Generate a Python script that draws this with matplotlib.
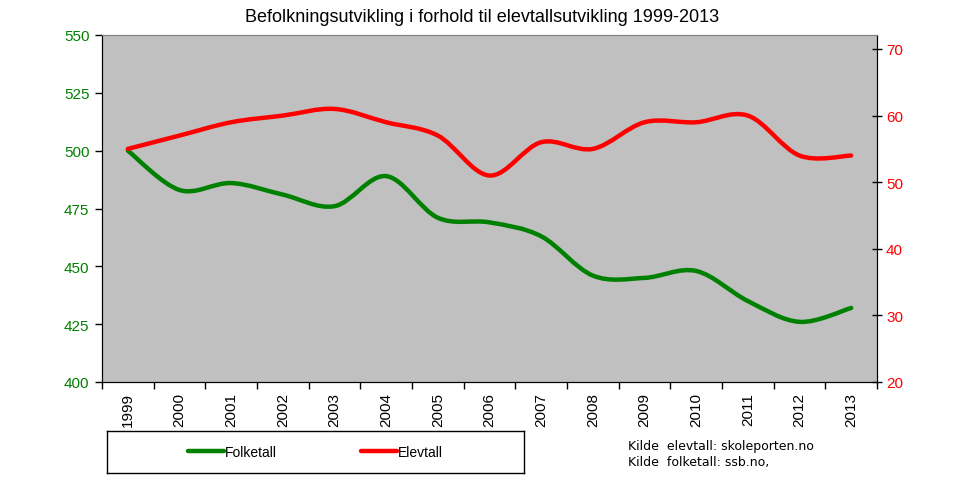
import matplotlib.pyplot as plt
from matplotlib.path import Path
from matplotlib.patches import PathPatch
from matplotlib.lines import Line2D

# data
years = ['1999', '2000', '2001', '2002', '2003', '2004', '2005', '2006',
         '2007', '2008', '2009', '2010', '2011', '2012', '2013']
folketall = [500, 483, 486, 481, 476, 489, 471, 469, 463, 446, 445, 448, 435, 426, 432]
elevtall = [55, 57, 59, 60, 61, 59, 57, 51, 56, 55, 59, 59, 60, 54, 54]

green = '#008000'
red = '#FF0000'


def smooth_line(ax, ys, color):
    # excel style smoothed line: cubic bezier segments through every point
    xs = list(range(len(ys)))
    n = len(xs)
    verts = [(xs[0], ys[0])]
    codes = [Path.MOVETO]
    for i in range(n - 1):
        a = max(i - 1, 0)
        d = min(i + 2, n - 1)
        c1 = (xs[i] + (xs[i + 1] - xs[a]) / 6, ys[i] + (ys[i + 1] - ys[a]) / 6)
        c2 = (xs[i + 1] - (xs[d] - xs[i]) / 6, ys[i + 1] - (ys[d] - ys[i]) / 6)
        verts += [c1, c2, (xs[i + 1], ys[i + 1])]
        codes += [Path.CURVE4] * 3
    patch = PathPatch(Path(verts, codes), fill=False, edgecolor=color,
                      lw=3.2, capstyle='round', joinstyle='round', zorder=3)
    ax.add_patch(patch)


fig = plt.figure(figsize=(9.65, 4.81), dpi=100)
plt.rcParams['font.family'] = ['Liberation Sans', 'DejaVu Sans']

ax = fig.add_axes([102 / 965, 98 / 481, 775 / 965, 347 / 481])
ax.set_facecolor('#C0C0C0')
ax2 = ax.twinx()

smooth_line(ax, folketall, green)
smooth_line(ax2, elevtall, red)

ax.set_xlim(-0.5, len(years) - 0.5)
ax.set_ylim(400, 550)
ax.set_yticks(range(400, 551, 25))
ax.tick_params(axis='y', labelsize=11, length=5, width=1, pad=4,
               color='black', labelcolor=green)

ax.set_xticks(range(len(years)))
ax.set_xticklabels(years, rotation=90, fontsize=11)
ax.set_xticks([i - 0.5 for i in range(len(years) + 1)], minor=True)
ax.tick_params(axis='x', which='major', length=0, pad=7)
ax.tick_params(axis='x', which='minor', length=5, width=1, color='black')

ax2.set_ylim(20, 72.1)
ax2.set_yticks(range(20, 71, 10))
ax2.tick_params(axis='y', labelsize=11, length=7, width=1, pad=3,
                direction='inout', color='black', labelcolor=red)

for a in (ax, ax2):
    a.spines['top'].set_color('#808080')
    a.spines['left'].set_color('black')
    a.spines['right'].set_color('black')
    a.spines['bottom'].set_color('black')

fig.text(0.5, 1 - 18 / 481, 'Befolkningsutvikling i forhold til elevtallsutvikling 1999-2013',
         ha='center', va='center', fontsize=13)

# legend box
lax = fig.add_axes([107 / 965, 7 / 481, 417 / 965, 42 / 481])
lax.set_xticks([])
lax.set_yticks([])
for s in lax.spines.values():
    s.set_color('black')
    s.set_linewidth(1)
handles = [Line2D([], [], color=green, lw=3.2, solid_capstyle='round'),
           Line2D([], [], color=red, lw=3.2, solid_capstyle='round')]
lax.legend(handles, ['Folketall', 'Elevtall'], loc='center', ncol=2,
           frameon=False, fontsize=10, handlelength=2.6, handletextpad=0.1,
           columnspacing=6.0)

fig.text(628 / 965, 1 - 447 / 481, 'Kilde  elevtall: skoleporten.no',
         fontsize=9, family='DejaVu Sans', va='center')
fig.text(628 / 965, 1 - 463 / 481, 'Kilde  folketall: ssb.no,',
         fontsize=9, family='DejaVu Sans', va='center')

fig.savefig('out.png', dpi=100)
